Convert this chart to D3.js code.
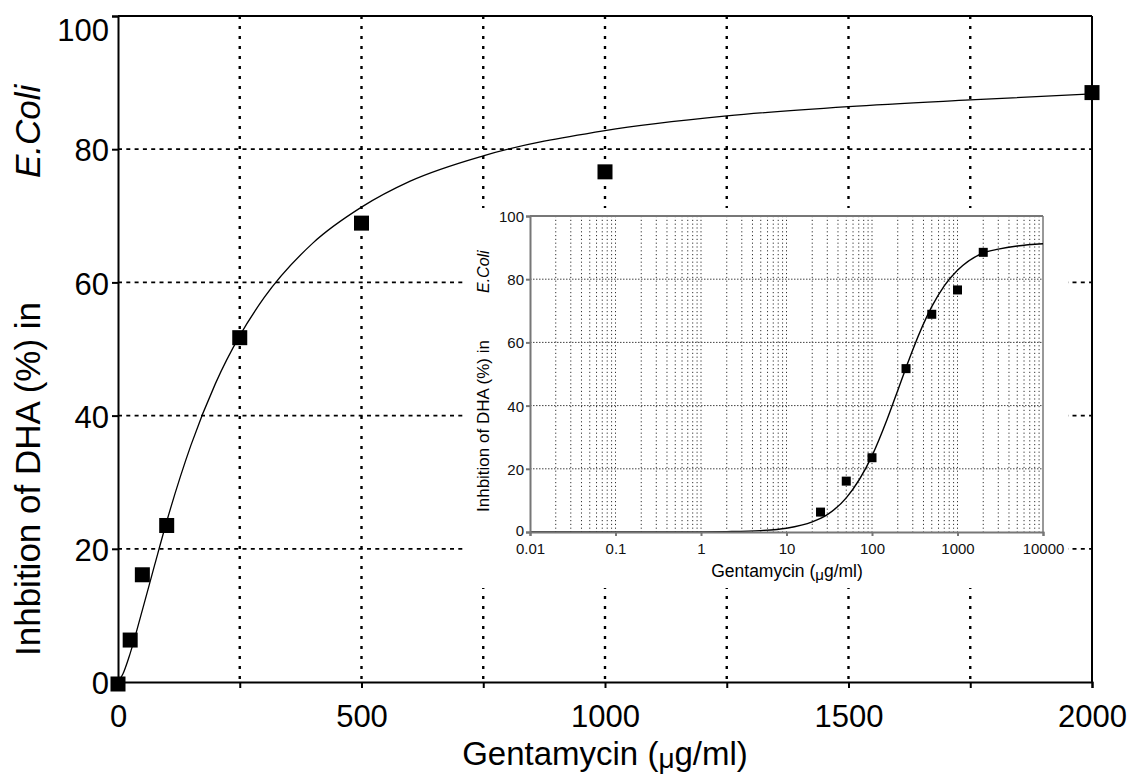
<!DOCTYPE html>
<html>
<head>
<meta charset="utf-8">
<script src="https://cdn.jsdelivr.net/npm/d3@7"></script>
<style>
  body{margin:0;background:#fff;}
  svg{font-family:"Liberation Sans",Arial,sans-serif;}
</style>
</head>
<body>
<svg id="chart" width="1129" height="778"></svg>
<script>
// measured points (Gentamycin ug/ml vs inhibition %)
var conc = [0, 25, 50, 100, 250, 500, 1000, 2000];
var inhibition = [-0.3, 6.3, 16.1, 23.5, 51.7, 68.9, 76.6, 88.5];

var fitConc = [0, 10, 25, 50, 75, 100, 150, 200, 250, 300, 400, 500, 600, 750, 1000, 1250, 1500, 1750, 2000];
var fitInhib = [0, 1.2, 4.3, 10.8, 17.5, 24.1, 35.6, 44.8, 52, 57.7, 65.9, 71.3, 75.2, 79, 82.8, 85, 86.4, 87.4, 88.3];

// fitted curve (log) panel
var fitConcLog = [0.01, 0.1, 1, 2, 5, 10, 20, 30, 50, 100, 150, 200, 250, 300, 500, 700, 1000, 2000, 3000, 5000, 10000];
var fitInhibLog = [0, 0, 0.03, 0.12, 0.45, 1.2, 3.2, 5.5, 10.8, 24.1, 35.6, 44.8, 52, 57.7, 71.3, 77.9, 82.8, 88.3, 89.5, 90.5, 91.2];

var xTicks = [0, 500, 1000, 1500, 2000];
var xGrid = [250, 500, 750, 1000, 1250, 1500, 1750];
var yTicks = [0, 20, 40, 60, 80, 100];
var yGrid = [20, 40, 60, 80];
var logTicks = [0.01, 0.1, 1, 10, 100, 1000, 10000];
var logTickLabels = ["0.01", "0.1", "1", "10", "100", "1000", "10000"];

var svg = d3.select("#chart");

// ---------- main panel ----------
var x = d3.scaleLinear().domain([0, 2000]).range([118, 1092]);
var y = d3.scaleLinear().domain([0, 100]).range([682, 16]);

svg.append("g").selectAll("line")
   .data(xGrid).enter().append("line")
   .attr("x1", function(d){return x(d);})
   .attr("x2", function(d){return x(d);})
   .attr("y1", y(100)).attr("y2", y(0))
   .attr("stroke", "#000").attr("stroke-width", 2.4)
   .attr("stroke-dasharray", "3,7");

svg.append("g").selectAll("line")
   .data(yGrid).enter().append("line")
   .attr("x1", x(0)).attr("x2", x(2000))
   .attr("y1", function(d){return y(d);})
   .attr("y2", function(d){return y(d);})
   .attr("stroke", "#000").attr("stroke-width", 1.8)
   .attr("stroke-dasharray", "4,4.3");

var fitLine = d3.line()
   .x(function(d){return x(d[0]);})
   .y(function(d){return y(d[1]);})
   .curve(d3.curveMonotoneX);

svg.append("path")
   .datum(d3.zip(fitConc, fitInhib))
   .attr("d", fitLine)
   .attr("fill", "none").attr("stroke", "#000").attr("stroke-width", 1.3);

// frame: top + right
svg.append("line").attr("x1", x(0)).attr("x2", x(2000)).attr("y1", y(100)).attr("y2", y(100))
   .attr("stroke", "#000").attr("stroke-width", 2);
svg.append("line").attr("x1", x(2000)).attr("x2", x(2000)).attr("y1", y(100)).attr("y2", y(0))
   .attr("stroke", "#000").attr("stroke-width", 2);

var xAxis = d3.axisBottom(x).tickValues(xGrid.concat([0, 2000])).tickSize(6)
   .tickFormat(function(d){return xTicks.indexOf(d) >= 0 ? d : "";});
svg.append("g").attr("class", "xAxis")
   .attr("transform", "translate(0," + y(0) + ")")
   .call(xAxis);

var yAxis = d3.axisLeft(y).tickValues(yTicks).tickSize(6).tickPadding(3);
svg.append("g").attr("class", "yAxis")
   .attr("transform", "translate(" + x(0) + ",0)")
   .call(yAxis);

svg.selectAll(".xAxis path, .yAxis path, .xAxis line, .yAxis line")
   .attr("stroke", "#000").attr("stroke-width", 2);
svg.selectAll(".xAxis text, .yAxis text")
   .attr("fill", "#000").style("font-size", "31px");
svg.selectAll(".xAxis text").attr("dy", "1.15em");
svg.selectAll(".yAxis text").attr("dy", function(d){return d === 100 ? "0.8em" : "0.38em";});

svg.append("g").selectAll("rect")
   .data(d3.zip(conc, inhibition)).enter().append("rect")
   .attr("x", function(d){return x(d[0]) - 7.5;})
   .attr("y", function(d){return y(d[1]) - 7.5;})
   .attr("width", 15).attr("height", 15)
   .attr("fill", "#000");

// axis titles
var xt = svg.append("text")
   .attr("x", 605).attr("y", 765)
   .attr("text-anchor", "middle")
   .style("font-size", "33px");
xt.append("tspan").text("Gentamycin (");
xt.append("tspan").attr("dy", 3).style("font-size", "28px").text("\u03bc");
xt.append("tspan").attr("dy", -3).text("g/ml)");

svg.append("text")
   .attr("transform", "translate(40,656) rotate(-90)")
   .attr("text-anchor", "start")
   .style("font-size", "35px")
   .text("Inhbition of DHA (%) in");
svg.append("text")
   .attr("transform", "translate(40,178) rotate(-90)")
   .attr("text-anchor", "start")
   .style("font-size", "35px").style("font-style", "italic")
   .text("E.Coli");

// ---------- inset panel ----------
svg.append("rect")
   .attr("x", 465).attr("y", 208).attr("width", 603).attr("height", 380)
   .attr("fill", "#fff");

var xl = d3.scaleLog().domain([0.01, 10000]).range([530, 1043]);
var yl = d3.scaleLinear().domain([0, 100]).range([532, 216]);

// minor log grid
var minor = [];
for (var e = -2; e < 4; e++) {
  for (var m = 2; m <= 10; m++) {
    minor.push(m * Math.pow(10, e));
  }
}
svg.append("g").selectAll("line")
   .data(minor).enter().append("line")
   .attr("x1", function(d){return xl(d);})
   .attr("x2", function(d){return xl(d);})
   .attr("y1", yl(100)).attr("y2", yl(0))
   .attr("stroke", "#333").attr("stroke-width", 1)
   .attr("stroke-dasharray", function(d){return d === 10000 ? null : "1.2,2.6";});

svg.append("g").selectAll("line")
   .data(yGrid).enter().append("line")
   .attr("x1", xl(0.01)).attr("x2", xl(10000))
   .attr("y1", function(d){return yl(d);})
   .attr("y2", function(d){return yl(d);})
   .attr("stroke", "#444").attr("stroke-width", 1)
   .attr("stroke-dasharray", "1.5,1.5");

svg.append("line").attr("x1", xl(0.01)).attr("x2", xl(10000)).attr("y1", yl(100)).attr("y2", yl(100))
   .attr("stroke", "#777").attr("stroke-width", 2);

var logLine = d3.line()
   .x(function(d){return xl(d[0]);})
   .y(function(d){return yl(d[1]);})
   .curve(d3.curveMonotoneX);

svg.append("path")
   .datum(d3.zip(fitConcLog, fitInhibLog))
   .attr("d", logLine)
   .attr("fill", "none").attr("stroke", "#000").attr("stroke-width", 1.4);

var xlAxis = d3.axisBottom(xl).tickValues(logTicks).tickSize(4).tickPadding(7)
   .tickFormat(function(d, i){return logTickLabels[i];});
svg.append("g").attr("class", "xlAxis")
   .attr("transform", "translate(0," + yl(0) + ")")
   .call(xlAxis);

var ylAxis = d3.axisLeft(yl).tickValues(yTicks).tickSize(4).tickPadding(2);
svg.append("g").attr("class", "ylAxis")
   .attr("transform", "translate(" + xl(0.01) + ",0)")
   .call(ylAxis);

svg.selectAll(".xlAxis path, .ylAxis path, .xlAxis line, .ylAxis line")
   .attr("stroke", "#777").attr("stroke-width", 2);
svg.selectAll(".xlAxis text, .ylAxis text")
   .attr("fill", "#111").style("font-size", "15px");
svg.selectAll(".ylAxis text").attr("dy", function(d){return d === 0 ? "0.2em" : "0.36em";});

svg.append("g").selectAll("rect")
   .data(d3.zip(conc, inhibition).filter(function(d){return d[0] > 0;})).enter().append("rect")
   .attr("x", function(d){return xl(d[0]) - 4.5;})
   .attr("y", function(d){return yl(d[1]) - 4.5;})
   .attr("width", 9).attr("height", 9)
   .attr("fill", "#000");

var ixt = svg.append("text")
   .attr("x", 787).attr("y", 577)
   .attr("text-anchor", "middle")
   .style("font-size", "17.5px");
ixt.append("tspan").text("Gentamycin (");
ixt.append("tspan").attr("dy", 3).style("font-size", "15px").text("\u03bc");
ixt.append("tspan").attr("dy", -3).text("g/ml)");

svg.append("text")
   .attr("transform", "translate(489,512) rotate(-90)")
   .attr("text-anchor", "start")
   .style("font-size", "17px")
   .text("Inhbition of DHA (%) in");
svg.append("text")
   .attr("transform", "translate(489,293) rotate(-90)")
   .attr("text-anchor", "start")
   .style("font-size", "16px").style("font-style", "italic")
   .text("E.Coli");
</script>
</body>
</html>
